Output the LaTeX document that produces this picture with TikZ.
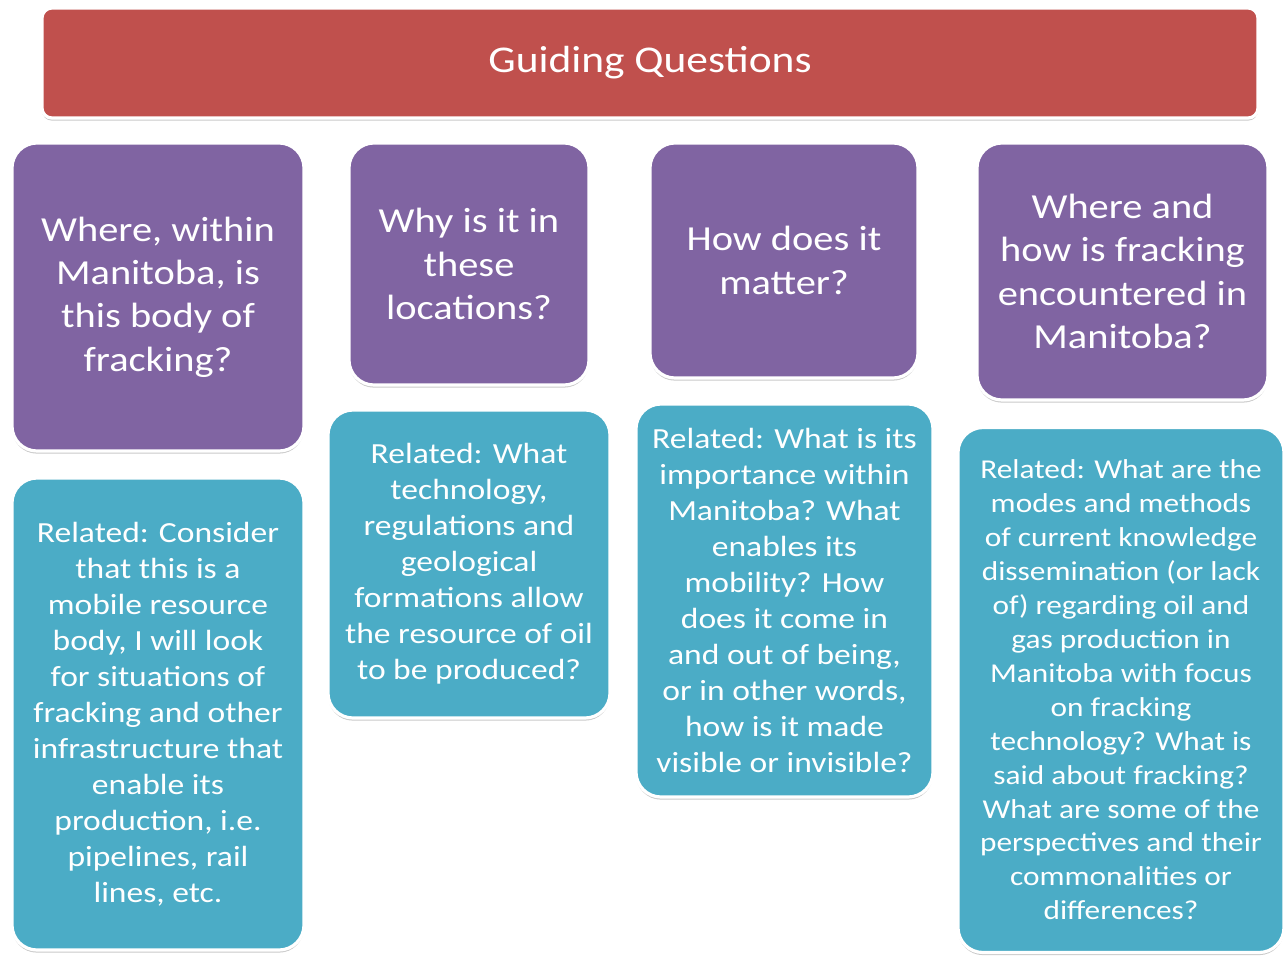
\documentclass[tikz,border=0pt]{standalone}
\usepackage{fontspec}
\setmainfont[FakeStretch=1.15]{Carlito}
\usetikzlibrary{shadows}

\definecolor{headred}{HTML}{C0504D}
\definecolor{qpurple}{HTML}{8064A2}
\definecolor{relteal}{HTML}{4BACC6}

\begin{document}
\begin{tikzpicture}[
		card/.style={draw=white, line width=1.8pt, rounded corners=0.5cm, text=white, align=center,
			drop shadow={opacity=0.35, shadow xshift=0pt, shadow yshift=-1.5pt, fill=black!60}},
		question/.style={card, fill=qpurple, font=\fontsize{20}{24.6}\selectfont},
		related/.style={card, fill=relteal, font=\fontsize{16.6}{20.5}\selectfont}
	]
				% Page frame
				\useasboundingbox (0,0) rectangle (25.74,-19.1);

				% Heading
				\node[card, rounded corners=0.2cm, fill=headred, minimum width=24.32cm, minimum height=2.2cm,
					font=\fontsize{21.5}{25}\selectfont] (head) at (13.0,-1.26) {Guiding Questions};

				% Questions
				\node[question, minimum width=5.84cm, minimum height=6.16cm] (where) at (3.16,-5.94) {Where, within\\Manitoba, is\\this body of\\fracking?};
				\node[question, minimum width=4.8cm, minimum height=4.84cm] (why) at (9.38,-5.28) {Why is it in\\these\\locations?};
				\node[question, minimum width=5.36cm, minimum height=4.7cm] (how) at (15.68,-5.21) {How does it\\matter?};
				\node[question, minimum width=5.82cm, minimum height=5.14cm] (encounter) at (22.45,-5.43) {Where and\\how is fracking\\encountered in\\Manitoba?};

				% Related questions
				\node[related, minimum width=5.84cm, minimum height=9.44cm] (relwhere) at (3.16,-14.28) {Related: Consider\\that this is a\\mobile resource\\body, I will look\\for situations of\\fracking and other\\infrastructure that\\enable its\\production, i.e.\\pipelines, rail\\lines, etc.};
				\node[related, minimum width=5.64cm, minimum height=6.16cm] (relwhy) at (9.38,-11.28) {Related: What\\technology,\\regulations and\\geological\\formations allow\\the resource of oil\\to be produced?};
				\node[related, minimum width=5.94cm, minimum height=7.86cm] (relhow) at (15.69,-12.01) {Related: What is its\\importance within\\Manitoba? What\\enables its\\mobility? How\\does it come in\\and out of being,\\or in other words,\\how is it made\\visible or invisible?};
				\node[related, minimum width=6.52cm, minimum height=10.5cm, font=\fontsize{15.5}{19.3}\selectfont] (relencounter) at (22.42,-13.8) {Related: What are the\\modes and methods\\of current knowledge\\dissemination (or lack\\of) regarding oil and\\gas production in\\Manitoba with focus\\on fracking\\technology? What is\\said about fracking?\\What are some of the\\perspectives and their\\commonalities or\\differences?};
			\end{tikzpicture}
\end{document}
